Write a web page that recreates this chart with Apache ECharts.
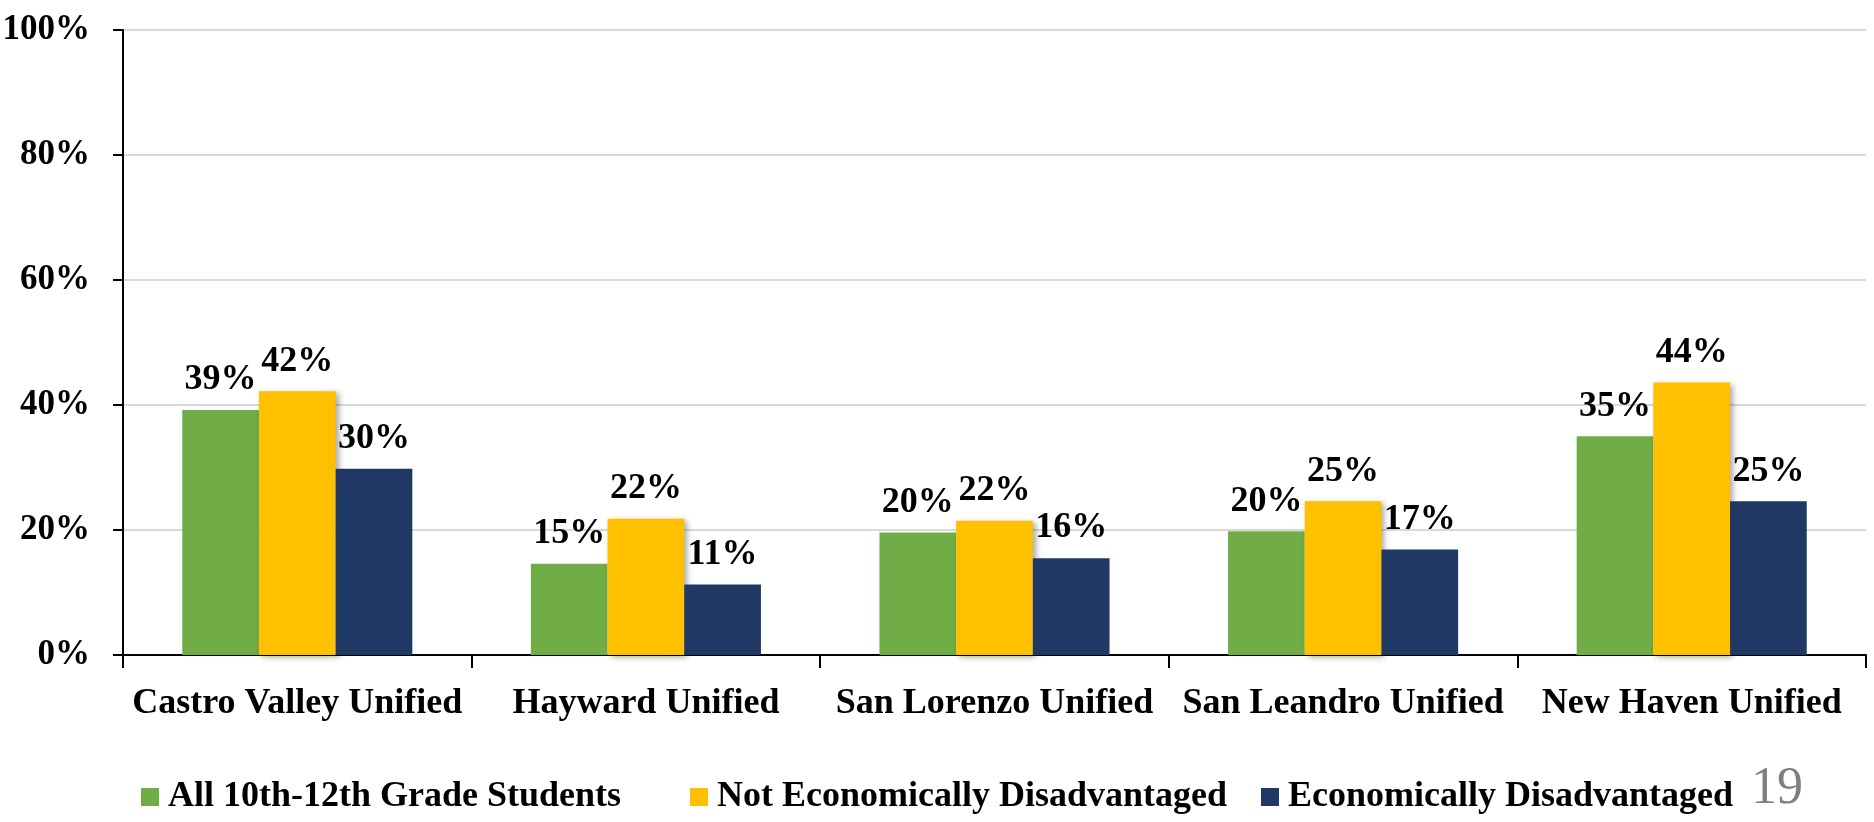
<!DOCTYPE html>
<html>
<head>
<meta charset="utf-8">
<script src="https://cdn.jsdelivr.net/npm/echarts@6/dist/echarts.min.js"></script>
<style>
html,body{margin:0;padding:0;background:#fff;}
#chart{width:1874px;height:822px;}
</style>
</head>
<body>
<div id="chart"></div>
<script>
const categories = ['Castro Valley Unified', 'Hayward Unified', 'San Lorenzo Unified', 'San Leandro Unified', 'New Haven Unified'];
const seriesNames = ['All 10th-12th Grade Students', 'Not Economically Disadvantaged', 'Economically Disadvantaged'];
const allStudents = [39.2, 14.6, 19.6, 19.8, 35.0];
const notDisadvantaged = [42.2, 21.8, 21.5, 24.6, 43.6];
const disadvantaged = [29.8, 11.3, 15.5, 16.9, 24.6];
const colors = ['#70AD47', '#FFC000', '#203864'];
const pageNumber = '19';

const FONT = '"Liberation Serif", "Times New Roman", serif';
const chart = echarts.init(document.getElementById('chart'), null, {renderer: 'canvas'});

const labelCfg = {
  show: true,
  position: 'top',
  distance: 12,
  fontFamily: FONT,
  fontWeight: 'bold',
  fontSize: 36,
  color: '#000',
  formatter: p => Math.round(p.value) + '%'
};

function mkLegend(name, left) {
  return {
    data: [name],
    left: left,
    top: 779,
    padding: 0,
    itemWidth: 18,
    itemHeight: 18,
    icon: 'rect',
    selectedMode: false,
    textStyle: {fontFamily: FONT, fontWeight: 'bold', fontSize: 36, color: '#000', padding: [0, 0, 0, 4]}
  };
}

chart.setOption({
  animation: false,
  color: colors,
  grid: {left: 123, right: 8, top: 30, bottom: 167, containLabel: false, outerBoundsMode: 'none'},
  legend: [
    mkLegend(seriesNames[0], 141),
    mkLegend(seriesNames[1], 690),
    mkLegend(seriesNames[2], 1261)
  ],
  xAxis: {
    type: 'category',
    data: categories,
    axisLine: {lineStyle: {color: '#000', width: 2}},
    axisTick: {show: true, length: 13, lineStyle: {color: '#000', width: 2}},
    axisLabel: {interval: 0, fontFamily: FONT, fontWeight: 'bold', fontSize: 36, color: '#000', margin: 31}
  },
  yAxis: {
    type: 'value',
    min: 0,
    max: 100,
    interval: 20,
    axisLine: {show: true, lineStyle: {color: '#000', width: 2}},
    axisTick: {show: true, length: 10, lineStyle: {color: '#000', width: 2}},
    splitLine: {lineStyle: {color: '#d9d9d9', width: 2}},
    axisLabel: {fontFamily: FONT, fontWeight: 'bold', fontSize: 35, color: '#000', margin: 33, formatter: '{value}%'}
  },
  series: [
    {name: seriesNames[0], type: 'bar', data: allStudents, barGap: '0%', barCategoryGap: '34%', label: labelCfg},
    {name: seriesNames[1], type: 'bar', data: notDisadvantaged, label: labelCfg,
     itemStyle: {shadowColor: 'rgba(0,0,0,0.35)', shadowBlur: 6, shadowOffsetX: 3, shadowOffsetY: 2}},
    {name: seriesNames[2], type: 'bar', data: disadvantaged, label: labelCfg}
  ],
  graphic: [{
    type: 'text',
    left: 1751,
    top: 763,
    style: {text: pageNumber, font: '52px ' + FONT, fill: '#808080'}
  }]
});
</script>
</body>
</html>
